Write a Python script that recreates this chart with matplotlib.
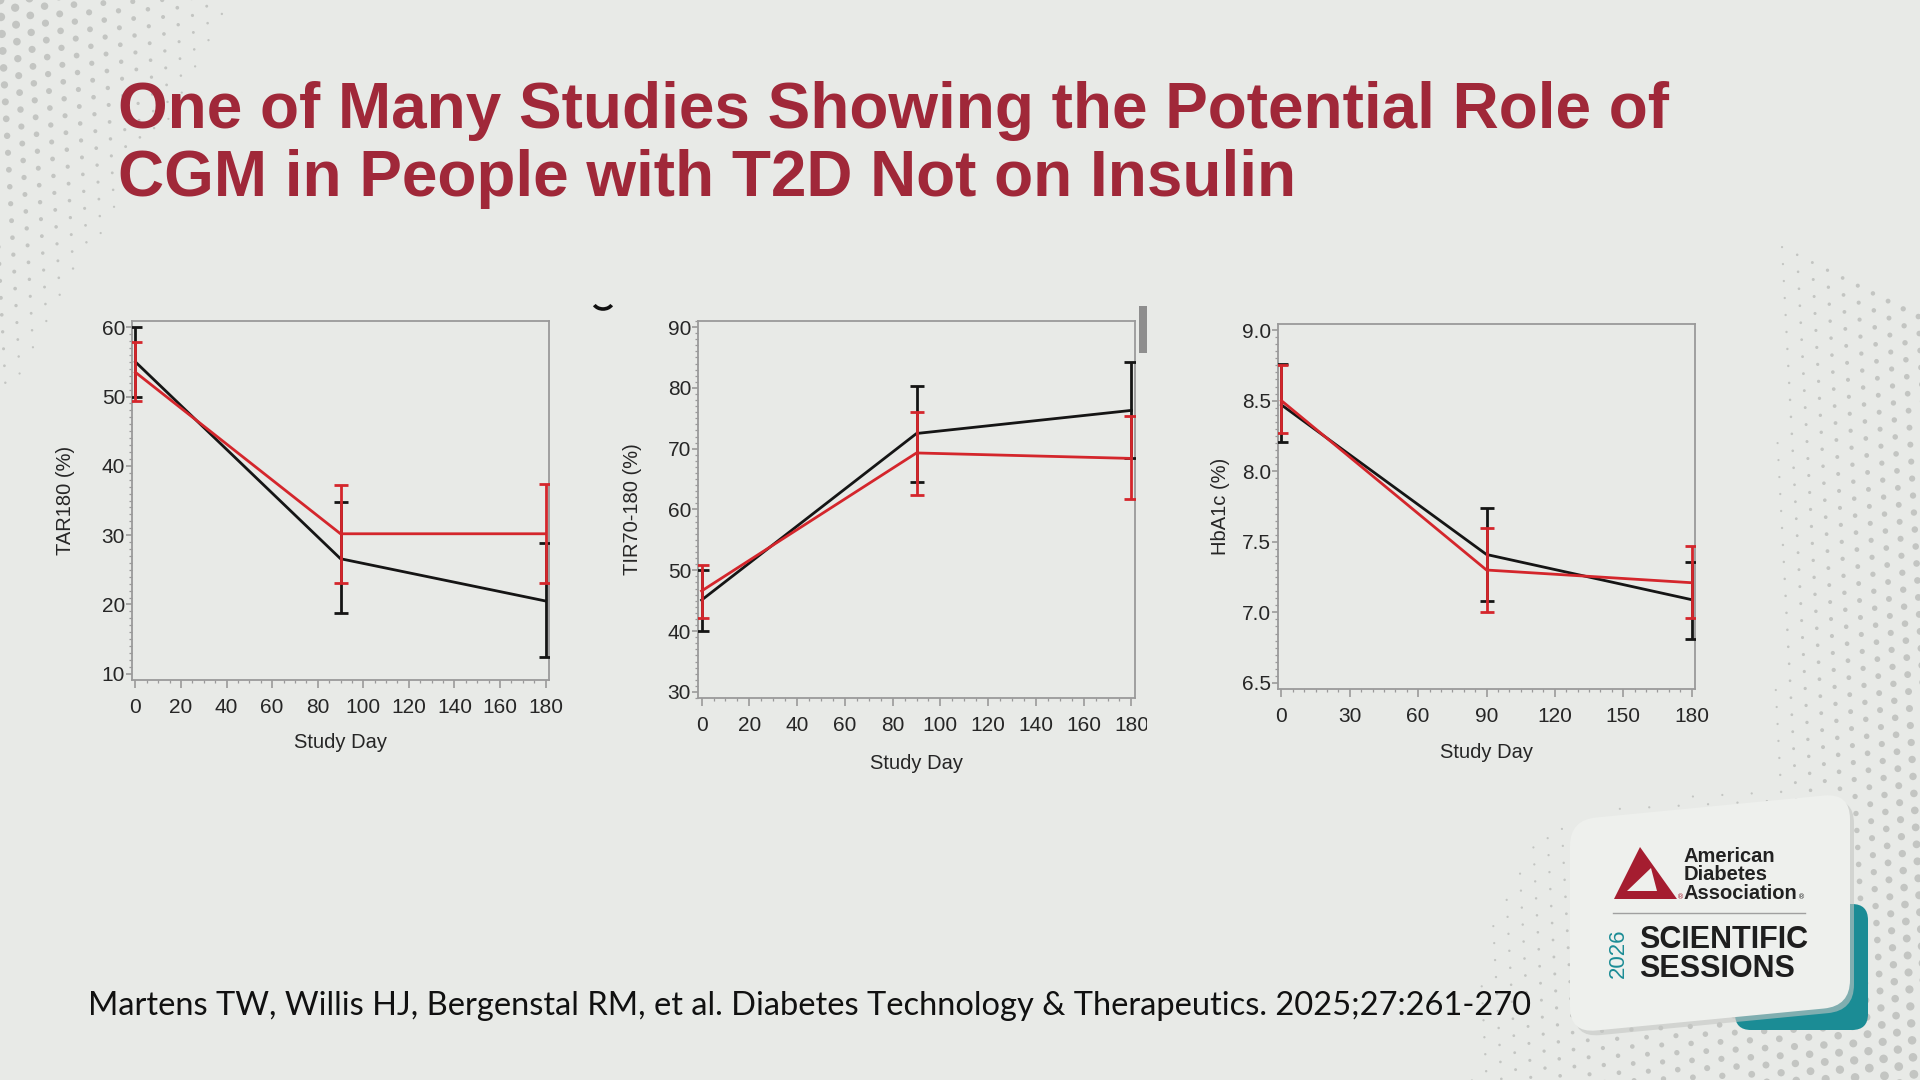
import numpy as np
import matplotlib
matplotlib.use('Agg')
import matplotlib.pyplot as plt
from matplotlib.patches import FancyBboxPatch, Polygon, Rectangle, Arc
from matplotlib.transforms import Affine2D, Bbox, TransformedBbox
from matplotlib.ticker import MultipleLocator, FormatStrFormatter
import math

# ---------------- data ----------------
days = [0, 90, 180]

tar_black = [55.0, 26.6, 20.5]
tar_black_lo = [50.0, 18.7, 12.4]
tar_black_hi = [60.0, 34.8, 28.8]
tar_red = [53.5, 30.2, 30.2]
tar_red_lo = [49.3, 23.1, 23.1]
tar_red_hi = [57.9, 37.3, 37.4]

tir_black = [45.1, 72.5, 76.3]
tir_black_lo = [40.0, 64.6, 68.4]
tir_black_hi = [50.0, 80.3, 84.3]
tir_red = [46.6, 69.3, 68.4]
tir_red_lo = [42.2, 62.4, 61.7]
tir_red_hi = [50.8, 76.1, 75.4]

a1c_black = [8.47, 7.41, 7.09]
a1c_black_lo = [8.21, 7.08, 6.81]
a1c_black_hi = [8.76, 7.74, 7.36]
a1c_red = [8.50, 7.30, 7.21]
a1c_red_lo = [8.27, 7.00, 6.96]
a1c_red_hi = [8.75, 7.60, 7.47]

y_labels = ["TAR180 (%)", "TIR70-180 (%)", "HbA1c (%)"]
x_label = "Study Day"
title_line1 = "One of Many Studies Showing the Potential Role of"
title_line2 = "CGM in People with T2D Not on Insulin"
citation = ("Martens TW, Willis HJ, Bergenstal RM, et al. Diabetes Technology & "
            "Therapeutics. 2025;27:261-270")

# ---------------- styling ----------------
BG = "#E8EAE7"
TITLE_RED = "#A02839"
LINE_RED = "#D4262C"
LINE_BLACK = "#151515"
SPINE = "#9A9A9A"
TEAL = "#1B8C95"
SANS = ["Liberation Sans", "DejaVu Sans"]

W, H = 1920, 1080
fig = plt.figure(figsize=(19.2, 10.8), dpi=100, facecolor=BG)

# decoration axes in pixel coordinates (y downward)
deco = fig.add_axes([0, 0, 1, 1], zorder=-1)
deco.set_xlim(0, W)
deco.set_ylim(H, 0)
deco.axis("off")
deco.patch.set_alpha(0)

# ---- halftone dot background (decorative) ----
sp = 17.0
ang = math.radians(27)
ii, jj = np.meshgrid(np.arange(-40, 160), np.arange(-40, 160))
px = (ii + 0.5 * (jj % 2)) * sp
py = jj * sp * 0.866
gx = px * math.cos(ang) - py * math.sin(ang)
gy = px * math.sin(ang) + py * math.cos(ang)
gx = gx.ravel(); gy = gy.ravel()
keep = (gx > -5) & (gx < W + 5) & (gy > -5) & (gy < H + 5)
gx = gx[keep]; gy = gy[keep]
right = np.clip((gx - 1765) / 150, 0, 1) * (0.35 + 0.65 * gy / H)
bottom = np.clip((gy - 770) / 300, 0, 1) * np.clip((gx - 1450) / 420, 0, 1)
left = np.clip(1 - (gx / 250 + gy / 430), 0, 1)
inten = np.maximum(np.maximum(right, bottom), left)
m = inten > 0.05
diam = 1.8 + 7.0 * inten[m]
deco.scatter(gx[m], gy[m], s=(diam * 0.72) ** 2, color="#C3C5C2", lw=0, zorder=0)


def pct(lo, mid, hi):
    lo = np.asarray(lo); mid = np.asarray(mid); hi = np.asarray(hi)
    return np.vstack([mid - lo, hi - mid])


def panel(rect, black, blo, bhi, red, rlo, rhi, ylim, yticks, yminor,
          xticks, xminor, ylabel, ylabel_x):
    ax = fig.add_axes(rect)
    ax.patch.set_alpha(0)
    ax.errorbar(days, black, yerr=pct(blo, black, bhi), color=LINE_BLACK,
                lw=2.0, elinewidth=2.0, capsize=4.8, capthick=2.0, zorder=3)
    ax.errorbar(days, red, yerr=pct(rlo, red, rhi), color=LINE_RED,
                lw=2.0, elinewidth=2.0, capsize=4.8, capthick=2.0, zorder=4)
    ax.set_ylim(*ylim)
    ax.set_xlim(-1.5, 181.5)
    ax.set_yticks(yticks)
    ax.set_xticks(xticks)
    ax.yaxis.set_minor_locator(MultipleLocator(yminor))
    ax.xaxis.set_minor_locator(MultipleLocator(xminor))
    for s in ax.spines.values():
        s.set_color(SPINE)
        s.set_linewidth(1.3)
    ax.tick_params(axis="both", which="major", colors=SPINE, labelcolor="#262626",
                   labelsize=15, width=1.2)
    ax.tick_params(axis="x", which="major", length=6, pad=7, direction="out")
    ax.tick_params(axis="y", which="major", length=4, pad=1.0, direction="out")
    ax.tick_params(axis="both", which="minor", colors=SPINE, length=2.5, width=0.9,
                   direction="out")
    for lab in ax.get_xticklabels() + ax.get_yticklabels():
        lab.set_family(SANS)
    ax.set_ylabel(ylabel, fontsize=14.5, family=SANS, color="#262626")
    ax.set_xlabel(x_label, fontsize=14.5, family=SANS, color="#262626")
    ax.yaxis.set_label_coords(ylabel_x, 0.5)
    ax.yaxis.label.set_va("center")
    ax.xaxis.set_label_coords(0.5, -0.173)
    ax.xaxis.label.set_va("center")
    return ax


ax1 = panel([132 / W, 1 - 680 / H, 417 / W, 359 / H],
            tar_black, tar_black_lo, tar_black_hi,
            tar_red, tar_red_lo, tar_red_hi,
            (9.1, 60.9), [10, 20, 30, 40, 50, 60], 1,
            list(range(0, 181, 20)), 5, y_labels[0], -0.16)

ax2 = panel([698 / W, 1 - 698 / H, 437 / W, 377 / H],
            tir_black, tir_black_lo, tir_black_hi,
            tir_red, tir_red_lo, tir_red_hi,
            (29.0, 91.0), [30, 40, 50, 60, 70, 80, 90], 1,
            list(range(0, 181, 20)), 5, y_labels[1], -0.149)

ax3 = panel([1278 / W, 1 - 689 / H, 417 / W, 365 / H],
            a1c_black, a1c_black_lo, a1c_black_hi,
            a1c_red, a1c_red_lo, a1c_red_hi,
            (6.457, 9.043), [6.5, 7.0, 7.5, 8.0, 8.5, 9.0], 0.05,
            list(range(0, 181, 30)), 5, y_labels[2], -0.137)
ax3.yaxis.set_major_formatter(FormatStrFormatter("%.1f"))

# clip the middle panel's last tick label as in the slide crop
clip = TransformedBbox(Bbox([[0, 0], [1147 / W, 1]]), fig.transFigure)
for lab in ax2.get_xticklabels():
    lab.set_clip_box(clip)
    lab.set_clip_on(True)

# grey crop bar next to middle panel, and a cropped glyph fragment
deco.add_patch(Rectangle((1139, 306), 8, 47, color="#8E8E8E", lw=0, zorder=2))
deco.add_patch(Arc((603, 301), 20, 16, theta1=25, theta2=155, color="#111111",
                   lw=2.6, zorder=2))

# ---------------- title & citation ----------------
TITLE_FONT = ["Liberation Sans", "DejaVu Sans"]
fig.text(118 / W, 1 - 128 / H, title_line1, fontsize=46, fontweight="bold",
         color=TITLE_RED, family=TITLE_FONT, va="baseline", ha="left")
fig.text(118 / W, 1 - 196 / H, title_line2, fontsize=46, fontweight="bold",
         color=TITLE_RED, family=TITLE_FONT, va="baseline", ha="left")

fig.text(88 / W, 1 - 1015 / H, citation, fontsize=23.5, color="#111111",
         family=["Lato", "Open Sans", "DejaVu Sans"], va="baseline", ha="left")

# ---------------- logo card ----------------
shear = math.atan(-0.0964)
sk = (Affine2D().translate(-1570, -820).skew(0, shear).translate(1570, 820)
      + deco.transData)
teal = FancyBboxPatch((1735, 904), 133, 126, boxstyle="round,pad=0,rounding_size=16",
                      fc=TEAL, ec="none", zorder=1)
deco.add_patch(teal)
shadow = FancyBboxPatch((1574, 825), 280, 213, boxstyle="round,pad=0,rounding_size=26",
                        fc="#C4C6C3", ec="none", transform=sk, zorder=1.5, alpha=0.6)
deco.add_patch(shadow)
card = FancyBboxPatch((1570, 820), 280, 213, boxstyle="round,pad=0,rounding_size=26",
                      fc="#EEF0ED", ec="none", transform=sk, zorder=2)
deco.add_patch(card)

deco.add_patch(Polygon([(1640, 847), (1614, 899), (1677, 899)], closed=True,
                       fc="#A51D30", ec="none", zorder=3))
deco.add_patch(Polygon([(1627, 891), (1651, 868), (1657, 891)], closed=True,
                       fc="#EEF0ED", ec="none", zorder=3.5))

LOGO_FONT = ["Liberation Sans", "DejaVu Sans"]
assoc = None
for txt, yb in [("American", 862), ("Diabetes", 880), ("Association", 899)]:
    t = deco.text(1684, yb, txt, fontsize=14.5, fontweight="bold", color="#222222",
                  family=LOGO_FONT, va="baseline", ha="left", zorder=4)
    assoc = t
deco.annotate("®", xy=(1.0, 0.12), xycoords=assoc, fontsize=5, color="#222222",
              va="bottom", ha="left", zorder=4)
deco.text(1677, 899, "®", fontsize=5, color="#A51D30", va="baseline", ha="left", zorder=4)
deco.plot([1613, 1805], [913, 913], color="#A0A0A0", lw=1, zorder=4)
for txt, yb in [("SCIENTIFIC", 948.5), ("SESSIONS", 977)]:
    deco.text(1639, yb, txt, fontsize=22, fontweight="bold", color="#1E1E1E",
              family=TITLE_FONT, va="baseline", ha="left", zorder=4)
deco.text(1618, 953.5, "2026", fontsize=16, color=TEAL, rotation=90,
          family=LOGO_FONT, va="center", ha="center", zorder=4)

fig.savefig("out.png", dpi=100, facecolor=BG)
